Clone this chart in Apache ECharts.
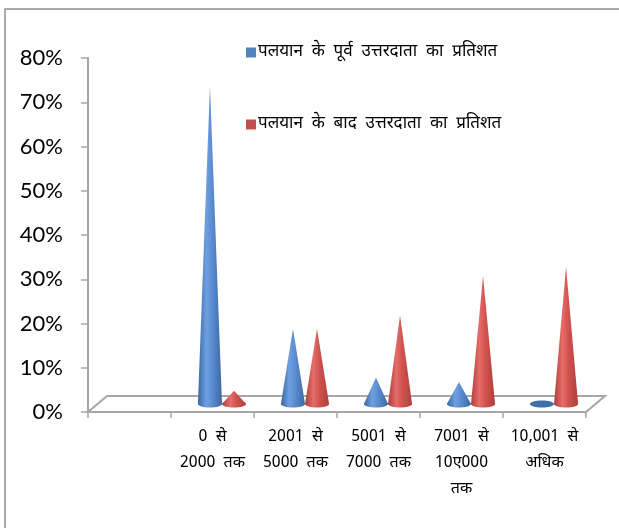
<!DOCTYPE html>
<html>
<head>
<meta charset="utf-8">
<script src="https://cdn.jsdelivr.net/npm/echarts@6/dist/echarts.min.js"></script>
<style>
  html, body { margin: 0; padding: 0; background: #fff; }
  #chart { width: 619px; height: 528px; }
</style>
</head>
<body>
<div id="chart"></div>
<script>
// Income groups (first slot is an empty leading category)
const categories = ['', '0 से\n2000 तक', '2001 से\n5000 तक', '5001 से\n7000 तक', '7001 से\n10ए000\nतक', '10,001 से\nअधिक'];
// Share of respondents (%) before and after migration
const beforeShare = [null, 72, 17, 6, 5, 0];
const afterShare = [null, 3, 17, 20, 29, 31];
const seriesNames = ['पलयान के पूर्व उत्तरदाता का प्रतिशत', 'पलयान के बाद उत्तरदाता का प्रतिशत'];

const DEV_FONT = '"Noto Sans Devanagari", "Lohit Devanagari", Mangal, "Noto Sans", "Liberation Sans", sans-serif';

// Justified-looking text: widen the gaps between words
const spread = s => s.split(' ').join('  ');

// Oblique depth of the floor
const DEPTH_X = 19, DEPTH_Y = 16;

const palettes = [
  { base: '#4f81bd', stops: ['#3a67a2', '#6e9fe0', '#5b8bcf', '#3c69a3'], flat: '#3f6fa9' },
  { base: '#c0504d', stops: ['#ad3e3b', '#e56c69', '#d0524f', '#b03f3c'], flat: '#a94441' }
];

function coneRenderer(side, pal) {
  return function (params, api) {
    const v = api.value(1);
    if (v == null || isNaN(v)) return null;
    const cat = api.value(0);
    const base = api.coord([cat, 0]);
    const top = api.coord([cat, v]);
    const band = api.size([1, 0])[0];
    const r = band * 0.145;
    const cx = base[0] + DEPTH_X / 2 + side * r;
    const by = base[1] - DEPTH_Y / 2;
    const ay = top[1] - DEPTH_Y / 2;
    const ry = 3.5;
    const grad = new echarts.graphic.LinearGradient(0, 0, 1, 0, [
      { offset: 0, color: pal.stops[0] },
      { offset: 0.35, color: pal.stops[1] },
      { offset: 0.6, color: pal.stops[2] },
      { offset: 1, color: pal.stops[3] }
    ]);
    if (by - ay < 1) {
      return {
        type: 'ellipse',
        shape: { cx: cx, cy: by, rx: r, ry: ry },
        style: { fill: pal.flat }
      };
    }
    return {
      type: 'group',
      children: [
        { type: 'ellipse', shape: { cx: cx, cy: by, rx: r, ry: ry }, style: { fill: grad } },
        { type: 'polygon', shape: { points: [[cx - r, by], [cx, ay], [cx + r, by]] }, style: { fill: grad } }
      ]
    };
  };
}

const chart = echarts.init(document.getElementById('chart'), null, { renderer: 'canvas' });

chart.setOption({
  animation: false,
  backgroundColor: '#ffffff',
  graphic: [{
    type: 'rect',
    shape: { x: 5, y: 9, width: 800, height: 700 },
    style: { fill: 'none', stroke: '#8f8f8f', lineWidth: 1.5 },
    silent: true,
    z: -10
  }],
  grid: { left: 88, top: 58, width: 498, height: 354 },
  legend: {
    orient: 'vertical',
    left: 241,
    top: 39,
    itemGap: 55,
    itemWidth: 10,
    itemHeight: 10,
    icon: 'rect',
    data: seriesNames,
    formatter: spread,
    textStyle: { fontFamily: DEV_FONT, fontSize: 17, color: '#000', padding: [0, 0, 0, -3] }
  },
  xAxis: {
    type: 'category',
    data: categories,
    boundaryGap: true,
    axisLine: { lineStyle: { color: '#a6a6a6', width: 2 } },
    axisTick: { show: true, length: 6, interval: 0, lineStyle: { color: '#a6a6a6', width: 1.5 } },
    axisLabel: {
      interval: 0,
      margin: 13,
      fontFamily: DEV_FONT,
      fontSize: 16,
      lineHeight: 26,
      color: '#000',
      formatter: spread
    },
    splitLine: { show: false }
  },
  yAxis: {
    type: 'value',
    min: 0,
    max: 80,
    interval: 10,
    axisLine: { show: true, lineStyle: { color: '#a6a6a6', width: 2 } },
    axisTick: { show: true, length: 7, lineStyle: { color: '#a6a6a6', width: 1.5 } },
    axisLabel: {
      formatter: '{value}%',
      margin: 25,
      fontFamily: 'Lato, "Open Sans", sans-serif',
      fontSize: 22,
      color: '#000'
    },
    splitLine: { show: false }
  },
  series: [
    {
      name: 'floor',
      type: 'custom',
      silent: true,
      z: 1,
      data: [[0, 0]],
      renderItem: function (params, api) {
        const cs = params.coordSys;
        const x = cs.x, y = cs.y + cs.height, w = cs.width;
        return {
          type: 'polygon',
          shape: { points: [[x, y], [x + DEPTH_X, y - DEPTH_Y], [x + w + DEPTH_X, y - DEPTH_Y], [x + w, y]] },
          style: { fill: '#ffffff', stroke: '#a6a6a6', lineWidth: 2 }
        };
      }
    },
    {
      name: seriesNames[0],
      type: 'custom',
      z: 3,
      color: palettes[0].base,
      data: beforeShare.map((v, i) => [i, v]),
      renderItem: coneRenderer(-1, palettes[0])
    },
    {
      name: seriesNames[1],
      type: 'custom',
      z: 4,
      color: palettes[1].base,
      data: afterShare.map((v, i) => [i, v]),
      renderItem: coneRenderer(1, palettes[1])
    }
  ]
});
</script>
</body>
</html>
